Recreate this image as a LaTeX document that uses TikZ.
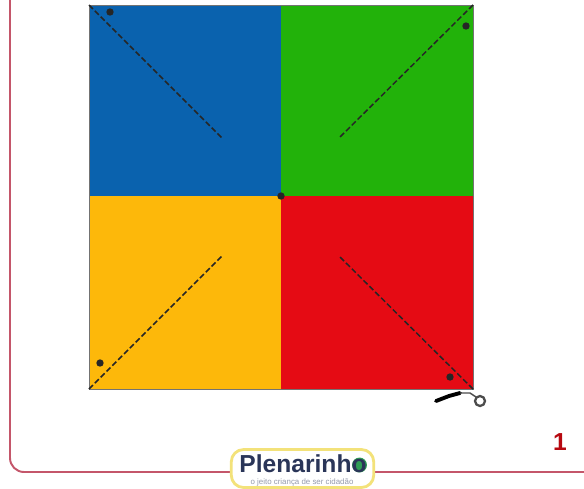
\documentclass[tikz,border=0pt]{standalone}
\usepackage{fontspec}
\setmainfont{Liberation Sans}
\definecolor{quadblue}{HTML}{0A62AE}
\definecolor{quadgreen}{HTML}{22B20A}
\definecolor{quadyellow}{HTML}{FDB80A}
\definecolor{quadred}{HTML}{E50B14}
\definecolor{frameline}{HTML}{C4566A}
\definecolor{logoyellow}{HTML}{F3E27A}
\definecolor{logodark}{HTML}{2A3558}
\definecolor{logogreen}{HTML}{2F9E55}
\begin{document}
\begin{tikzpicture}[
    x=0.02cm,
    y=-0.02cm,
    font=\sffamily,
    foldline/.style={line width=0.85pt, dash pattern=on 3.2pt off 1.5pt, black!85},
    pindot/.style={circle, fill=black!85, inner sep=0pt, minimum size=4.2pt}
]
\useasboundingbox (0,0) rectangle (584,488);

% === Outer frame ===
\draw[frameline, line width=1.1pt] (10,0) -- (10,458)
    arc[start angle=180, end angle=90, radius=14] -- (584,472);

% === Four quadrants ===
\fill[quadblue] (89,5) rectangle (281,196);
\fill[quadgreen] (281,5) rectangle (473,196);
\fill[quadyellow] (89,196) rectangle (281,389);
\fill[quadred] (281,196) rectangle (473,389);
\draw[black!55, thin] (89,5) rectangle (473,389);

% === Fold lines ===
\coordinate (cornerA) at (89,5);
\coordinate (cornerB) at (473,5);
\coordinate (cornerC) at (89,389);
\coordinate (cornerD) at (473,389);
\coordinate (innerA) at (222,138);
\coordinate (innerB) at (339,138);
\coordinate (innerC) at (222,256);
\coordinate (innerD) at (339,256);
\draw[foldline] (cornerA) -- (innerA);
\draw[foldline] (cornerB) -- (innerB);
\draw[foldline] (cornerC) -- (innerC);
\draw[foldline] (cornerD) -- (innerD);

% === Pin dots ===
\node[pindot] (dotA) at (110,12) {};
\node[pindot] (dotB) at (466,26) {};
\node[pindot] (dotC) at (100,363) {};
\node[pindot] (dotD) at (450,377) {};
\node[pindot] (dotM) at (281,196) {};

% === Scissors ===
\draw[black, line width=2.2pt, line cap=round] (436,401) -- (449,396) -- (460,393);
\draw[black!70, line width=0.8pt] (460,393) -- (470,393) -- (476,397);
\draw[black!70, line width=1.3pt] (480,401) circle (5);

% === Page number ===
\node[font=\fontsize{14}{14}\selectfont\bfseries, text=quadred!80!black] (pagenum) at (560,442) {1};

% === Logo ===
\node[draw=logoyellow, fill=white, line width=1.6pt, rounded corners=7pt,
    minimum width=2.85cm, minimum height=0.76cm] (logobox) at (302.5,468.5) {};
\node[circle, fill=logogreen, inner sep=0pt, minimum size=8.5pt] (logoball) at (359.5,465) {};
\node[font=\fontsize{14}{14}\selectfont\bfseries, text=logodark, inner sep=0pt] (logotext) at (303,464) {Plenarinho};
\node[font=\fontsize{4.5}{4.5}\selectfont, text=logodark!50, inner sep=0pt] (logotag) at (302,482) {o jeito criança de ser cidadão};

\end{tikzpicture}
\end{document}
